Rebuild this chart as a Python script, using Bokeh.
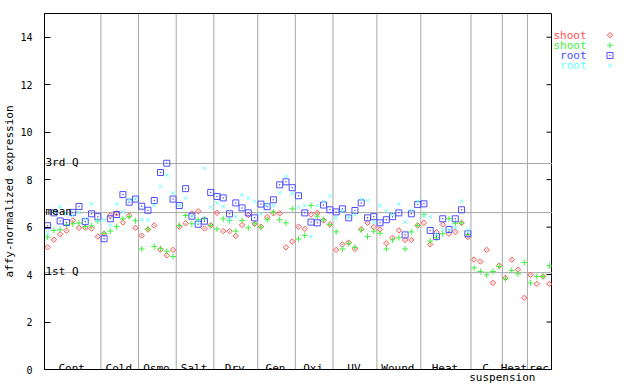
import numpy as np
from bokeh.plotting import figure
from bokeh.layouts import row
from bokeh.models import Range1d, SingleIntervalTicker, FixedTicker, Span, Label
from bokeh.core.properties import value
from bokeh.embed import file_html
from bokeh.resources import INLINE

nan = float("nan")

groups = ["Cont", "Cold", "Osmo", "Salt", "Dry", "Gen", "Oxi", "UV", "Wound", "Heat", "C", "Heat", "rec"]
group_sizes = [9, 6, 6, 6, 7, 6, 6, 7, 7, 8, 5, 4, 4]
sub_label = "suspension"

shoot_red = [
    5.15, 5.47, 5.70, 5.85, 6.28, 5.97, 5.97, 5.94, 5.60,
    5.72, 6.49, 6.58, 6.20, 6.49, 5.97,
    5.64, 5.90, 6.07, 5.05, 4.81, 5.04,
    6.02, 6.16, 6.58, 6.67, 5.94, 6.07,
    6.60, 5.83, 5.83, 5.63, 6.09, 6.51, 6.14,
    6.02, 6.42, 6.58, 6.58, 5.15, 5.39,
    6.02, 5.93, 6.53, 6.60, 6.28, 6.11,
    5.04, 5.27, 5.35, 5.08, 5.91, 6.18, 6.00,
    5.90, 5.32, 5.55, 5.86, 5.46, 5.46, 6.07,
    6.18, 5.27, 5.79, 6.11, 5.72, 5.80, 6.18, 5.58,
    4.63, 4.55, 5.04, 3.65, 4.38,
    3.86, 4.63, 4.21, 3.02,
    3.99, 3.61, 3.92, 3.61,
]
shoot_green = [
    5.58, 5.86, 5.89, 6.10, 6.14, 6.17, 6.02, 6.05, 6.25,
    5.74, 5.83, 6.02, 6.35, 6.44, 6.27,
    5.08, 5.92, 5.18, 5.09, 4.98, 4.76,
    6.07, 6.49, 6.14, 6.31, 6.35, 6.07,
    5.92, 6.35, 6.28, 5.83, 6.28, 5.97, 6.14,
    6.00, 6.31, 6.63, 6.31, 6.18, 6.77,
    5.50, 5.65, 6.91, 6.46, 6.31, 6.11,
    5.80, 5.08, 5.32, 5.15, 5.88, 5.60, 5.83,
    5.74, 5.08, 5.46, 5.55, 5.08, 5.80, 6.07,
    6.53, 5.41, 5.55, 5.72, 6.35, 6.16, 6.18, 5.69,
    4.28, 4.13, 3.99, 4.13, 4.34,
    3.82, 4.17, 4.03, 4.51,
    3.65, 3.92, 3.92, 4.37,
]
root_blue = [
    6.06, 6.60, 6.26, 6.19, 6.62, 6.87, 6.23, 6.56, 6.44,
    5.51, 6.35, 6.53, 7.37, 7.05, 7.18,
    6.88, 6.71, 7.12, 8.30, 8.69, 7.18,
    6.91, 7.62, 6.46, 6.12, 6.25, 7.46,
    7.29, 7.23, 6.56, 7.02, 6.81, 6.60, 6.39,
    6.97, 6.86, 7.15, 7.78, 7.91, 7.66,
    7.32, 6.60, 6.21, 6.18, 6.93, 6.73,
    6.64, 6.77, 6.39, 6.70, 7.02, 6.39, 6.44,
    6.18, 6.31, 6.44, 6.60, 5.67, 6.56, 6.95,
    6.98, 5.86, 5.60, 6.35, 5.90, 6.35, 6.73, 5.72,
] + [nan] * 13
root_cyan = [
    5.77, 6.64, 6.85, 6.56, 6.50, 6.62, 6.35, 6.98, 6.27,
    6.31, 6.07, 6.98, 6.64, 7.15, 7.18,
    6.31, 6.31, 6.92, 7.71, 8.19, 7.43,
    6.92, 7.22, 6.48, 6.20, 8.48, 6.84,
    7.02, 6.87, 6.30, 6.44, 7.36, 7.22, 7.08,
    6.56, 6.94, 6.90, 7.45, 8.13, 7.40,
    6.84, 6.91, 5.60, 6.91, 7.08, 7.33,
    6.39, 6.68, 6.42, 6.53, 7.18, 7.12, 6.21,
    6.91, 6.67, 6.53, 6.98, 6.21, 6.70, 7.09,
    6.49, 6.42, 5.69, 5.90, 5.86, 5.97, 7.09, 5.90,
] + [nan] * 13

quartile_values = [4.08, 6.61, 8.68]
quartile_labels = ["1st Q", "mean", "3rd Q"]
legend_labels = ["shoot", "shoot", "root", "root"]
y_max = 15
y_title = "affy-normalized expression"

FONT = "DejaVu Sans Mono"
GRAY = "#a6a6a6"
colors = ["#ff4d4d", "#40f040", "#4d4dff", "#66ffff"]
markers = [dict(marker="square_dot", angle=np.pi / 4, size=3.8, fill_color=None),
           dict(marker="cross", size=6),
           dict(marker="square_dot", size=6, fill_color=None),
           dict(marker="x", size=5)]
series = [shoot_red, shoot_green, root_blue, root_cyan]

n = len(shoot_red)
assert n == sum(group_sizes) == len(shoot_green) == len(root_blue) == len(root_cyan)
x = np.arange(n)

p = figure(output_backend="svg", toolbar_location=None,
           frame_width=508, frame_height=356,
           min_border_left=44, min_border_right=0,
           min_border_top=13, min_border_bottom=15,
           x_range=Range1d(-0.5, n - 0.5), y_range=Range1d(0, y_max))
p.background_fill_color = "white"
p.border_fill_color = "white"
p.outline_line_color = "black"
p.outline_line_width = 1
p.xgrid.visible = False
p.ygrid.visible = False

bounds = np.cumsum(group_sizes)[:-1] - 0.5

xa = p.xaxis[0]
xa.ticker = FixedTicker(ticks=[float(bounds[-2])])
xa.major_label_overrides = {float(bounds[-2]): sub_label}
xa.major_tick_in = 0
xa.major_tick_out = 0
xa.minor_tick_line_color = None
xa.axis_line_color = "black"
xa.major_label_text_font = FONT
xa.major_label_text_font_size = "11px"
xa.major_label_text_color = "black"
xa.major_label_standoff = 1

ya = p.yaxis[0]
ya.ticker = SingleIntervalTicker(interval=2)
ya.major_tick_in = 6
ya.major_tick_out = 0
ya.minor_tick_line_color = None
ya.axis_line_color = "black"
ya.major_tick_line_color = "black"
ya.major_label_text_font = FONT
ya.major_label_text_font_size = "10px"
ya.major_label_text_color = "black"
ya.major_label_standoff = 8
ya.axis_label = y_title
ya.axis_label_text_font = FONT
ya.axis_label_text_font_size = "11px"
ya.axis_label_text_font_style = "normal"
ya.axis_label_text_color = "black"
ya.axis_label_standoff = 1

# inward ticks on the right frame edge
right_ticks = np.arange(0, y_max, 2)
p.scatter(np.full(len(right_ticks), n - 0.5), right_ticks, marker="dash", size=12,
          line_color="black", line_width=1)

# group separators
for b in bounds:
    p.add_layout(Span(location=float(b), dimension="height", line_color=GRAY,
                      line_width=1, level="underlay"))

# quartile lines
for qv, ql in zip(quartile_values, quartile_labels):
    p.add_layout(Span(location=qv, dimension="width", line_color=GRAY,
                      line_width=1, level="underlay"))
    p.add_layout(Label(x=-0.5, y=qv, text=ql, x_offset=1, y_offset=1,
                       text_font=FONT, text_font_size="11px", text_color="black",
                       text_align="left", text_baseline="alphabetic"))

# data
for vals, col, mk in zip(series, colors, markers):
    p.scatter(x, vals, line_color=col, line_width=1, **mk)

# group labels
starts = np.cumsum(group_sizes) - np.array(group_sizes)
for g, s, sz in zip(groups, starts, group_sizes):
    c = s + (sz - 1) / 2
    p.add_layout(Label(x=float(c), y=0, text=g, x_offset=-1, y_offset=1,
                       text_font=FONT, text_font_size="11px", text_color="black",
                       text_align="center", text_baseline="alphabetic"))

# legend panel (separate figure to the right, pixel coordinates)
LW, LH = 88, 384
lg = figure(output_backend="svg", toolbar_location=None, width=LW, height=LH,
            x_range=Range1d(0, LW), y_range=Range1d(LH, 0),
            x_axis_location=None, y_axis_location=None,
            min_border=0)
lg.outline_line_color = None
lg.background_fill_color = "white"
lg.border_fill_color = "white"
lg.grid.visible = False
rows = np.arange(len(legend_labels))
ly = 23.5 + 11 * rows
lg.text(np.full(len(rows), 34.0), ly, text=legend_labels, text_color=colors,
        text_font=value(FONT), text_font_size="11px",
        text_align="right", text_baseline="middle")
for k, (col, mk) in enumerate(zip(colors, markers)):
    lg.scatter([57.5], [ly[k]], line_color=col, line_width=1, **mk)

layout = row(p, lg)
open("out.html", "w").write(file_html(layout, INLINE))
